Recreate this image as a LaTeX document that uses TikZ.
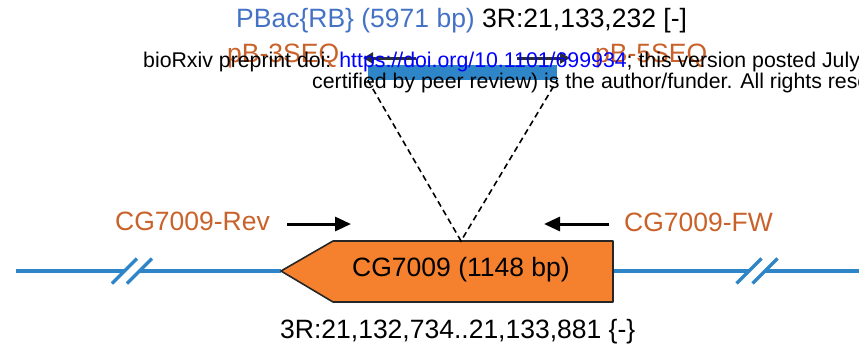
\documentclass[tikz,border=0pt]{standalone}
\usepackage{fontspec}
\setmainfont{Liberation Sans}
\usetikzlibrary{arrows.meta,calc}
\definecolor{geneorange}{HTML}{F5812F}
\definecolor{labelorange}{HTML}{C9622A}
\definecolor{titleblue}{HTML}{4472C4}
\definecolor{chromblue}{HTML}{2E86C8}
\definecolor{urlblue}{HTML}{0000FF}
\definecolor{primerdark}{HTML}{2B2F36}
\tikzset{
  bigtext/.style={inner sep=0pt, anchor=base west, font=\fontsize{26.5}{30}\selectfont},
  marktext/.style={inner sep=0pt, anchor=base west, font=\fontsize{21.3}{24}\selectfont},
  chrom/.style={draw=chromblue, line width=3.2pt},
  breakmark/.style={draw=chromblue, line width=3.4pt},
  primer/.style={draw=black, line width=3pt, -{Triangle[length=16pt,width=14pt]}},
  seqprimer/.style={draw=primerdark, line width=3pt, -{Triangle[length=10pt,width=11pt]}},
  genebody/.style={fill=geneorange, draw=black!85, line width=1.6pt, line join=round},
  insertbox/.style={fill=chromblue, draw=none, inner sep=0pt, minimum width=189pt, minimum height=15pt},
  insertlink/.style={draw=black, line width=1.6pt, dash pattern=on 6pt off 4pt},
}
\begin{document}
\begin{tikzpicture}[x=1pt, y=-1pt]
\useasboundingbox (0,0) rectangle (859,354);

% chromosome arm with break marks
\coordinate (chrL) at (16,271);
\coordinate (brLa) at (124.5,271);
\coordinate (brLb) at (139.5,271);
\coordinate (tip) at (281,271);
\coordinate (gR) at (613,271);
\coordinate (brRa) at (749,271);
\coordinate (brRb) at (765,271);
\coordinate (chrR) at (859,271);
\draw[chrom] (chrL) -- (brLa);
\draw[chrom] (brLb) -- (tip);
\draw[chrom] (gR) -- (brRa);
\draw[chrom] (brRb) -- (chrR);
\draw[breakmark] ($(brLa)+(-12.5,12.5)$) -- ($(brLa)+(12.5,-12.5)$);
\draw[breakmark] ($(brLb)+(-12.5,12.5)$) -- ($(brLb)+(12.5,-12.5)$);
\draw[breakmark] ($(brRa)+(-12.5,12.5)$) -- ($(brRa)+(12.5,-12.5)$);
\draw[breakmark] ($(brRb)+(-12.5,12.5)$) -- ($(brRb)+(12.5,-12.5)$);

% gene body, pointing to the minus strand
\coordinate (gTL) at (333,241);
\coordinate (gTR) at (613,241);
\coordinate (gBR) at (613,302);
\coordinate (gBL) at (333,302);
\coordinate (genetop) at (461,241);
\draw[genebody] (tip) -- (gTL) -- (gTR) -- (gBR) -- (gBL) -- cycle;
\node[inner sep=0pt, font=\fontsize{26.5}{30}\selectfont] (gene) at (461,269.5) {CG7009 (1148 bp)};
\node[bigtext] (coords) at (280,338) {3R:21,132,734..21,133,881 \{-\}};

% primers
\coordinate (revA) at (287,224);
\coordinate (revB) at (351,224);
\coordinate (fwA) at (609,224);
\coordinate (fwB) at (544,224);
\draw[primer] (revA) -- (revB);
\draw[primer] (fwA) -- (fwB);
\node[bigtext, text=labelorange] (revlbl) at (115,230) {CG7009-Rev};
\node[bigtext, text=labelorange] (fwlbl) at (624,231) {CG7009-FW};

% piggyBac insertion
\node[bigtext] (title) at (236,27) {\textcolor{titleblue}{PBac\{RB\} (5971 bp)} 3R:21,133,232 [-]};
\node[insertbox] (pbac) at (462.5,72.5) {};
\draw[insertlink] (pbac.south west) -- (genetop) -- (pbac.south east);
\coordinate (s3A) at (416,58);
\coordinate (s3B) at (363,58);
\coordinate (s5A) at (517,58);
\coordinate (s5B) at (570,58);
\draw[seqprimer] (s3A) -- (s3B);
\draw[seqprimer] (s5A) -- (s5B);
\node[bigtext, text=labelorange] (seq3) at (227,62) {pB-3SEQ};
\node[bigtext, text=labelorange] (seq5) at (595,62) {pB-5SEQ};

% preprint stamp
\begin{scope}
\clip (0,0) rectangle (859,354);
\node[marktext] (stampA) at (143,67) {bioRxiv preprint doi: \textcolor{urlblue}{https://doi.org/10.1101/699934}; this version posted July 12, 2019.};
\node[marktext] (stampB) at (312,88) {certified by peer review) is the author/funder. All rights reserved.};
\end{scope}
\end{tikzpicture}
\end{document}
